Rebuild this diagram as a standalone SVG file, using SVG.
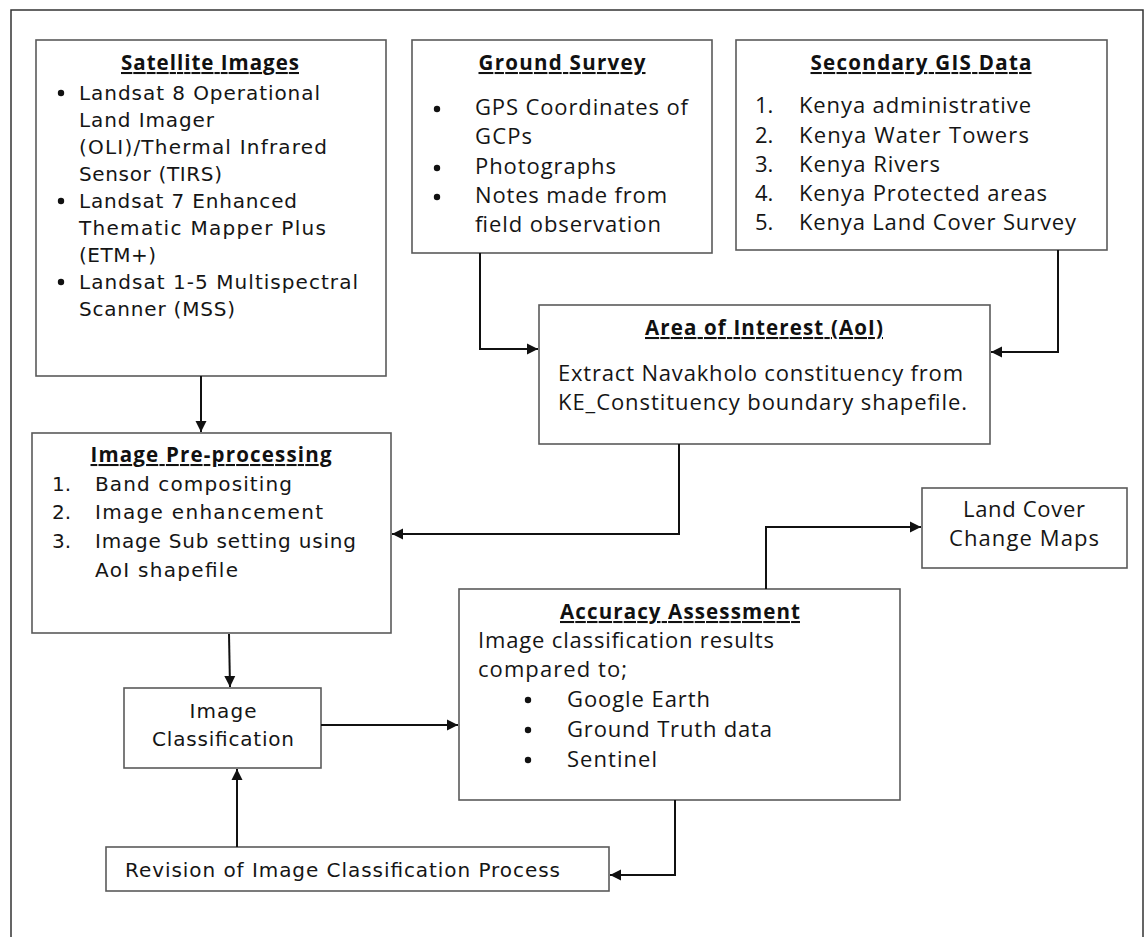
<svg xmlns="http://www.w3.org/2000/svg" width="1146" height="937" viewBox="0 0 1146 937">
<defs>
<style>
.box{fill:#fff;stroke:#5a5a5a;stroke-width:1.6}
.v{font-family:"DejaVu Sans",Verdana,sans-serif;font-size:20px;fill:#151515}
.c{font-family:"Open Sans",Lato,sans-serif;font-size:22px;fill:#151515}
.t{font-family:"Open Sans",Lato,sans-serif;font-weight:bold;font-size:20.5px;fill:#111;text-anchor:middle;text-decoration:underline}
.m{text-anchor:middle}
.edge{fill:none;stroke:#111;stroke-width:2}
.frame{fill:none;stroke:#333;stroke-width:1.5}
</style>
<marker id="ah" markerUnits="userSpaceOnUse" markerWidth="12" markerHeight="12" refX="11" refY="6" orient="auto">
<path d="M0,0.5 L11,6 L0,11.5 z" fill="#111"/>
</marker>
</defs>
<rect width="1146" height="937" fill="#fff"/>
<path class="frame" d="M11,937 V10 H1143 V937"/>

<g id="satellite">
<rect class="box" x="36" y="40" width="350" height="336"/>
<text class="t" x="210" y="70" textLength="178">Satellite Images</text>
<g class="v">
<circle cx="61" cy="93" r="3.2" fill="#111"/>
<text x="79" y="100" textLength="241">Landsat 8 Operational</text>
<text x="79" y="127" textLength="135">Land Imager</text>
<text x="79" y="154" textLength="248">(OLI)/Thermal Infrared</text>
<text x="79" y="181" textLength="143">Sensor (TIRS)</text>
<circle cx="61" cy="201" r="3.2" fill="#111"/>
<text x="79" y="208" textLength="218">Landsat 7 Enhanced</text>
<text x="79" y="235" textLength="247">Thematic Mapper Plus</text>
<text x="79" y="262" textLength="77">(ETM+)</text>
<circle cx="61" cy="282" r="3.2" fill="#111"/>
<text x="79" y="289" textLength="279">Landsat 1-5 Multispectral</text>
<text x="79" y="316" textLength="156">Scanner (MSS)</text>
</g>
</g>

<g id="ground">
<rect class="box" x="412" y="40" width="300" height="213"/>
<text class="t" x="562" y="70" textLength="167">Ground Survey</text>
<g class="c">
<circle cx="437" cy="109" r="3.2" fill="#111"/>
<text x="475" y="115" textLength="213">GPS Coordinates of</text>
<text x="475" y="144" textLength="57">GCPs</text>
<circle cx="437" cy="168" r="3.2" fill="#111"/>
<text x="475" y="174" textLength="141">Photographs</text>
<circle cx="437" cy="197" r="3.2" fill="#111"/>
<text x="475" y="203" textLength="192">Notes made from</text>
<text x="475" y="232" textLength="186">field observation</text>
</g>
</g>

<g id="secondary">
<rect class="box" x="736" y="40" width="371" height="210"/>
<text class="t" x="921" y="70" textLength="221">Secondary GIS Data</text>
<g class="c">
<text x="755" y="113">1.</text><text x="799" y="113" textLength="232">Kenya administrative</text>
<text x="755" y="143">2.</text><text x="799" y="143" textLength="230">Kenya Water Towers</text>
<text x="755" y="172">3.</text><text x="799" y="172" textLength="141">Kenya Rivers</text>
<text x="755" y="201">4.</text><text x="799" y="201" textLength="248">Kenya Protected areas</text>
<text x="755" y="230">5.</text><text x="799" y="230" textLength="277">Kenya Land Cover Survey</text>
</g>
</g>

<g id="aoi">
<rect class="box" x="539" y="305" width="451" height="139"/>
<text class="t" x="764" y="335" textLength="238">Area of Interest (AoI)</text>
<text class="c" x="558" y="381" textLength="405">Extract Navakholo constituency from</text>
<text class="c" x="558" y="410" textLength="409">KE_Constituency boundary shapefile.</text>
</g>

<g id="preprocessing">
<rect class="box" x="32" y="433" width="359" height="200"/>
<text class="t" x="211" y="462" textLength="241">Image Pre-processing</text>
<g class="v">
<text x="52" y="491">1.</text><text x="95" y="491" textLength="197">Band compositing</text>
<text x="52" y="519">2.</text><text x="95" y="519" textLength="228">Image enhancement</text>
<text x="52" y="548">3.</text><text x="95" y="548" textLength="261">Image Sub setting using</text>
<text x="95" y="577" textLength="143">AoI shapefile</text>
</g>
</g>

<g id="landcover">
<rect class="box" x="922" y="488" width="205" height="80"/>
<text class="c m" x="1024" y="517" textLength="122">Land Cover</text>
<text class="c m" x="1024" y="546" textLength="150">Change Maps</text>
</g>

<g id="accuracy">
<rect class="box" x="459" y="589" width="441" height="211"/>
<text class="t" x="680" y="619" textLength="240">Accuracy Assessment</text>
<g class="c">
<text x="478" y="648" textLength="296">Image classification results</text>
<text x="478" y="677" textLength="149">compared to;</text>
<circle cx="528" cy="700" r="3.2" fill="#111"/>
<text x="567" y="707" textLength="143">Google Earth</text>
<circle cx="528" cy="730" r="3.2" fill="#111"/>
<text x="567" y="737" textLength="205">Ground Truth data</text>
<circle cx="528" cy="760" r="3.2" fill="#111"/>
<text x="567" y="767" textLength="90">Sentinel</text>
</g>
</g>

<g id="classification">
<rect class="box" x="124" y="688" width="197" height="80"/>
<text class="v m" x="223" y="718" textLength="67">Image</text>
<text class="v m" x="223" y="746" textLength="142">Classification</text>
</g>

<g id="revision">
<rect class="box" x="106" y="847" width="503" height="44"/>
<text class="v" x="125" y="877" textLength="435">Revision of Image Classification Process</text>
</g>

<g id="connectors">
<path class="edge" d="M201,376 V432" marker-end="url(#ah)"/>
<path class="edge" d="M480,253 V349 H538" marker-end="url(#ah)"/>
<path class="edge" d="M1058,250 V352 H991" marker-end="url(#ah)"/>
<path class="edge" d="M679,444 V534 H392" marker-end="url(#ah)"/>
<path class="edge" d="M229,634 L230,687" marker-end="url(#ah)"/>
<path class="edge" d="M321,725 H458" marker-end="url(#ah)"/>
<path class="edge" d="M766,589 V527 H921" marker-end="url(#ah)"/>
<path class="edge" d="M675,800 V875 H610" marker-end="url(#ah)"/>
<path class="edge" d="M237,847 V769" marker-end="url(#ah)"/>
</g>
</svg>
